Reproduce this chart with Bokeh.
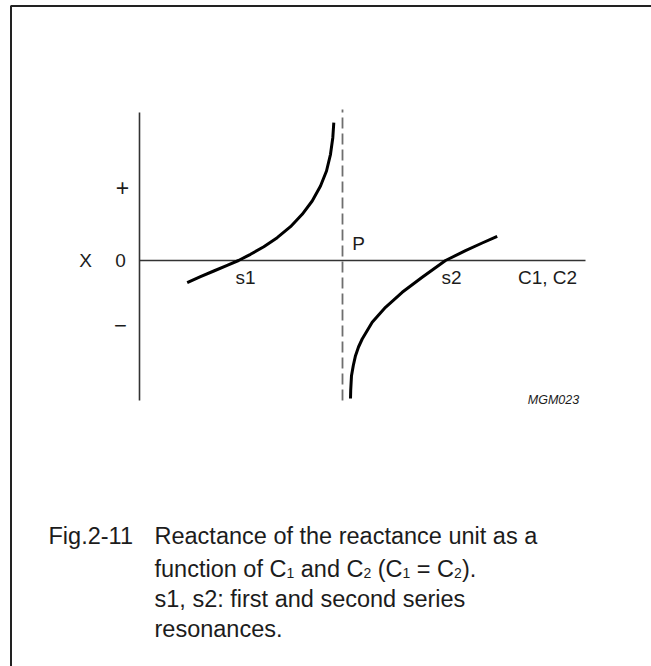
from bokeh.plotting import figure
from bokeh.models import Range1d
from bokeh.core.properties import value
from bokeh.embed import file_html
from bokeh.resources import INLINE

# Reactance X versus C1 (= C2), arbitrary units
branch1_c = [0.477, 0.61, 0.743, 0.877, 0.99, 1.11, 1.243, 1.377, 1.51, 1.627,
             1.727, 1.81, 1.87, 1.91, 1.933, 1.943]
branch1_x = [-0.222, -0.162, -0.105, -0.048, 0.0, 0.062, 0.138, 0.228, 0.338, 0.462,
             0.595, 0.745, 0.895, 1.062, 1.228, 1.378]
branch2_c = [2.11, 2.112, 2.12, 2.138, 2.16, 2.19, 2.227, 2.327, 2.46, 2.627, 2.827, 3.06,
             3.26, 3.427, 3.577]
branch2_x = [-1.38, -1.30, -1.152, -1.05, -0.952, -0.865, -0.785, -0.618, -0.468, -0.318,
             -0.168, 0.0, 0.098, 0.175, 0.242]

pole_c = 2.03          # parallel resonance P
s1_c = 0.99            # first series resonance
s2_c = 3.06            # second series resonance
x_axis_end = 4.46
y_axis_top = 1.48
y_axis_bottom = -1.40
pole_top = 1.51

FONT = "Liberation Sans"
INK = "#1c1c1c"

p = figure(width=651, height=666, output_backend="svg", toolbar_location=None,
           x_range=Range1d(-1.39, 5.12), y_range=Range1d(-4.06, 2.60),
           min_border=0, outline_line_color=None)
p.axis.visible = False
p.grid.visible = False
p.background_fill_color = "white"
p.border_fill_color = "white"

# frame round the figure (top and left edges)
p.line(x=[-1.285, -1.285, 5.2], y=[-4.2, 2.545, 2.545], line_color="#222222", line_width=2)

# axes
p.line(x=[0, 0], y=[y_axis_bottom, y_axis_top], line_color="#333333", line_width=1.6)
p.line(x=[0, x_axis_end], y=[0, 0], line_color="#333333", line_width=1.6)

# asymptote at the parallel resonance
p.line(x=[pole_c, pole_c], y=[y_axis_bottom, pole_top], line_color="#6e6e6e",
       line_width=1.8, line_dash="11 5")

# reactance branches
p.line(x=branch1_c, y=branch1_x, line_color="black", line_width=3, line_join="round")
p.line(x=branch2_c, y=branch2_x, line_color="black", line_width=3, line_join="round")


def label(x, y, txt, size="19px", align="center", baseline="middle", style="normal"):
    p.text(x=[x], y=[y], text=[txt], text_font=value(FONT), text_font_size=value(size),
           text_align=align, text_baseline=baseline, text_font_style=style,
           text_color=INK)


label(-0.54, 0.0, "X")
label(-0.19, 0.0, "0")
label(-0.17, 0.73, "+", size="23px")
label(-0.19, -0.65, "\u2212", size="22px")
label(s1_c + 0.07, -0.17, "s1")
label(pole_c + 0.16, 0.17, "P")
label(s2_c + 0.06, -0.17, "s2")
label(4.08, -0.17, "C1, C2")
label(4.14, -1.39, "MGM023", size="12.5px", style="italic")

# caption, with Arial/Liberation advance widths for the subscripted line
ADV = {"f": 278, "u": 556, "n": 556, "c": 500, "t": 278, "i": 222, "o": 556, " ": 278,
       "C": 722, "a": 556, "d": 556, "(": 333, ")": 333, "=": 584, ".": 278,
       "1": 556, "2": 556}
CAP = 23.5
SUB = 14.0


def width(txt, size):
    return sum(ADV[ch] for ch in txt) * size / 1000.0 / 100.0


cap_x = 0.15
label(-0.91, -2.75, "Fig.2-11", size=f"{CAP}px", align="left", baseline="alphabetic")
label(cap_x, -2.75, "Reactance of the reactance unit as a", size=f"{CAP}px",
      align="left", baseline="alphabetic")

pieces = [("function of C", False), ("1", True), (" and C", False), ("2", True),
          (" (C", False), ("1", True), (" = C", False), ("2", True), (").", False)]
x = cap_x
base2 = -3.08
for txt, sub in pieces:
    size = SUB if sub else CAP
    y = base2 - 0.045 if sub else base2
    # leading blanks are collapsed in SVG text, so advance past them here
    lead = txt[:len(txt) - len(txt.lstrip(" "))]
    x += width(lead, size)
    body = txt.lstrip(" ")
    label(x, y, body, size=f"{size}px", align="left", baseline="alphabetic")
    x += width(body, size)

label(cap_x, -3.38, "s1, s2: first and second series", size=f"{CAP}px",
      align="left", baseline="alphabetic")
label(cap_x, -3.68, "resonances.", size=f"{CAP}px", align="left", baseline="alphabetic")

open("out.html", "w").write(file_html(p, INLINE))
